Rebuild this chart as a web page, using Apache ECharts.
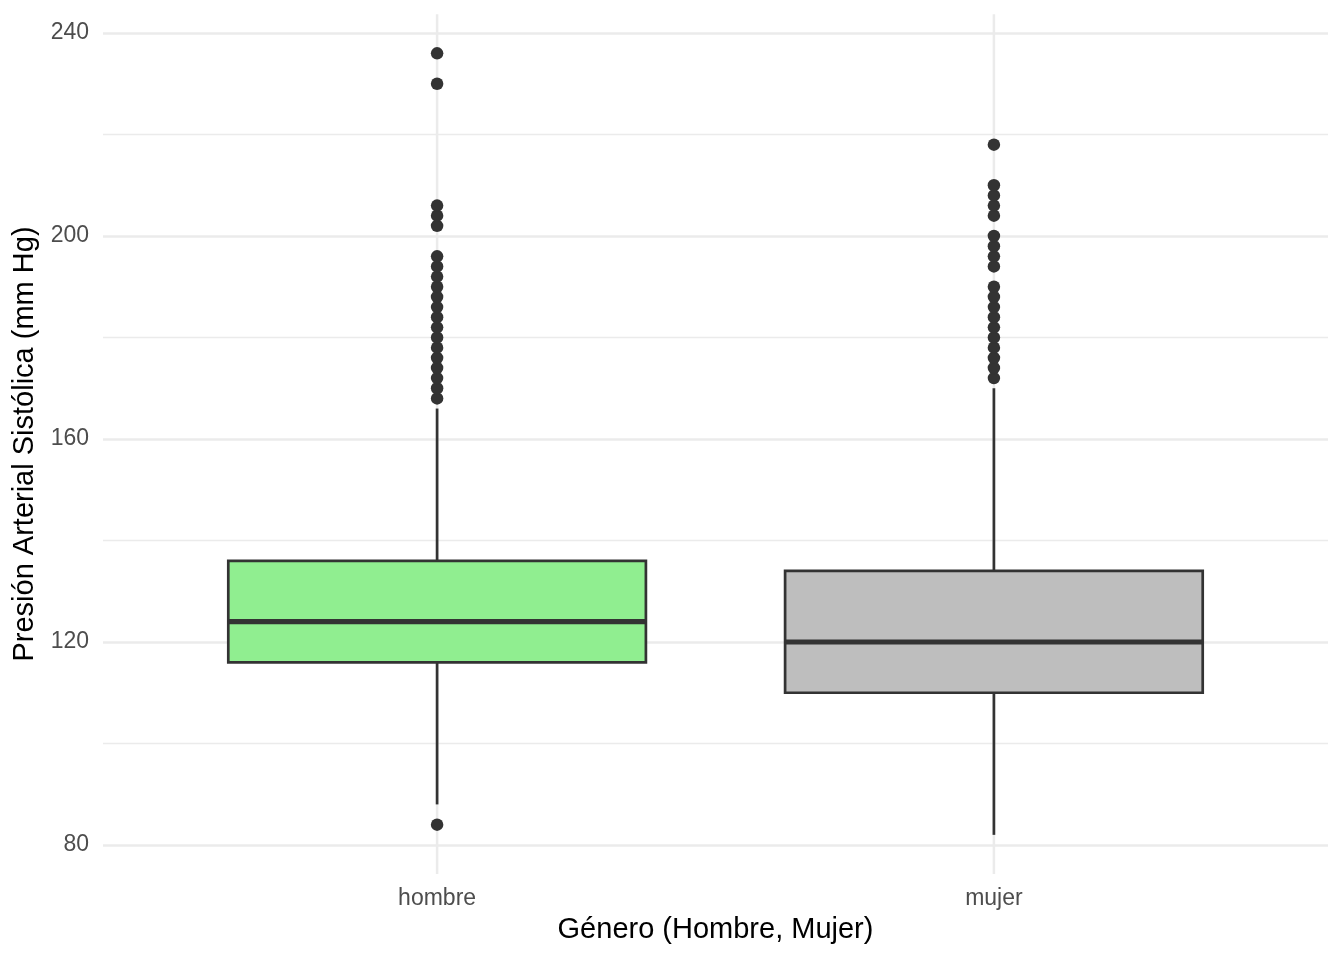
<!DOCTYPE html>
<html>
<head>
<meta charset="utf-8">
<script src="https://cdn.jsdelivr.net/npm/echarts@6/dist/echarts.min.js"></script>
<style>
html,body{margin:0;padding:0;background:#fff;}
#chart{width:1344px;height:960px;}
</style>
</head>
<body>
<div id="chart"></div>
<script>
// ---- data ----
const categories = ['hombre', 'mujer'];
const fills = ['#90EE90', '#BEBEBE'];
// [lowerWhisker, Q1, median, Q3, upperWhisker]
const boxHombre = [88, 116, 124, 136, 166];
const boxMujer = [82, 110, 120, 134, 170];
const outliersHombre = [84, 168, 170, 172, 174, 176, 178, 180, 182, 184, 186, 188, 190, 192, 194, 196, 202, 204, 206, 230, 236];
const outliersMujer = [172, 174, 176, 178, 180, 182, 184, 186, 188, 190, 194, 196, 198, 200, 204, 206, 208, 210, 218];
const yTicks = [80, 120, 160, 200, 240];
// panel extent (ggplot expansion)
const yPanelMin = 74.3, yPanelMax = 243.7;
const xMin = 0.4, xMax = 2.6;

const boxes = [boxHombre, boxMujer];
const boxData = boxes.map((b, i) => [i + 1].concat(b));
const outlierData = [];
outliersHombre.forEach(v => outlierData.push([1, v]));
outliersMujer.forEach(v => outlierData.push([2, v]));

const chart = echarts.init(document.getElementById('chart'), null, {renderer: 'canvas'});
const lineColor = '#333333';
const gridColor = '#EBEBEB';

const option = {
  backgroundColor: '#ffffff',
  animation: false,
  grid: {left: 103, right: 16, top: 33, bottom: 115, containLabel: false},
  xAxis: {
    type: 'value',
    min: xMin, max: xMax, interval: 0.2,
    axisLine: {show: false}, axisTick: {show: false}, splitLine: {show: false},
    axisLabel: {
      color: '#4D4D4D', fontSize: 23, fontFamily: 'Liberation Sans, Arial, sans-serif', margin: 42,
      showMinLabel: true, showMaxLabel: true,
      formatter: function (v) {
        for (let i = 0; i < categories.length; i++) {
          if (Math.abs(v - (i + 1)) < 1e-6) return categories[i];
        }
        return '';
      }
    },
    name: 'Género (Hombre, Mujer)',
    nameLocation: 'middle', nameGap: 70,
    nameTextStyle: {color: '#000000', fontSize: 29, fontFamily: 'Liberation Sans, Arial, sans-serif'}
  },
  yAxis: {
    type: 'value',
    min: yTicks[0], max: yTicks[yTicks.length - 1], interval: 40,
    axisLine: {show: false}, axisTick: {show: false},
    splitLine: {show: true, lineStyle: {color: gridColor, width: 2.5}},
    minorTick: {show: false, splitNumber: 2},
    minorSplitLine: {show: true, lineStyle: {color: gridColor, width: 1.3}},
    axisLabel: {color: '#4D4D4D', fontSize: 23, fontFamily: 'Liberation Sans, Arial, sans-serif', margin: 14, padding: [4, 0, 0, 0]},
    name: 'Presión Arterial Sistólica (mm Hg)',
    nameLocation: 'middle', nameGap: 59,
    nameTextStyle: {color: '#000000', fontSize: 29, fontFamily: 'Liberation Sans, Arial, sans-serif', padding: [0, 10, 0, 0]}
  },
  series: [
    {
      // vertical major grid lines at category positions, spanning the panel
      type: 'custom',
      z: 1,
      clip: false,
      silent: true,
      data: categories.map((c, i) => [i + 1]),
      renderItem: function (params, api) {
        const x = api.value(0);
        const p1 = api.coord([x, yPanelMin]);
        const p2 = api.coord([x, yPanelMax]);
        return {
          type: 'line',
          shape: {x1: p1[0], y1: p1[1], x2: p2[0], y2: p2[1]},
          style: {stroke: gridColor, lineWidth: 2.5}
        };
      }
    },
    {
      type: 'custom',
      z: 2,
      clip: false,
      data: boxData,
      renderItem: function (params, api) {
        const x = api.value(0);
        const lo = api.value(1), q1 = api.value(2), med = api.value(3), q3 = api.value(4), hi = api.value(5);
        const half = 0.375;
        const pLo = api.coord([x, lo]);
        const pHi = api.coord([x, hi]);
        const pQ1L = api.coord([x - half, q1]);
        const pQ3R = api.coord([x + half, q3]);
        const pMedL = api.coord([x - half, med]);
        const pMedR = api.coord([x + half, med]);
        const pQ1 = api.coord([x, q1]);
        const pQ3 = api.coord([x, q3]);
        const idx = params.dataIndex;
        return {
          type: 'group',
          children: [
            {type: 'line', shape: {x1: pQ3[0], y1: pQ3[1], x2: pHi[0], y2: pHi[1]}, style: {stroke: lineColor, lineWidth: 2.7}},
            {type: 'line', shape: {x1: pQ1[0], y1: pQ1[1], x2: pLo[0], y2: pLo[1]}, style: {stroke: lineColor, lineWidth: 2.7}},
            {type: 'rect', shape: {x: pQ1L[0], y: pQ3R[1], width: pQ3R[0] - pQ1L[0], height: pQ1L[1] - pQ3R[1]},
              style: {fill: fills[idx], stroke: lineColor, lineWidth: 2.7}},
            {type: 'line', shape: {x1: pMedL[0], y1: pMedL[1], x2: pMedR[0], y2: pMedR[1]}, style: {stroke: lineColor, lineWidth: 5.2}}
          ]
        };
      }
    },
    {
      type: 'scatter',
      z: 3,
      clip: false,
      symbol: 'circle',
      symbolSize: 12.5,
      itemStyle: {color: lineColor, opacity: 1},
      data: outlierData
    }
  ]
};
chart.setOption(option);
</script>
</body>
</html>
